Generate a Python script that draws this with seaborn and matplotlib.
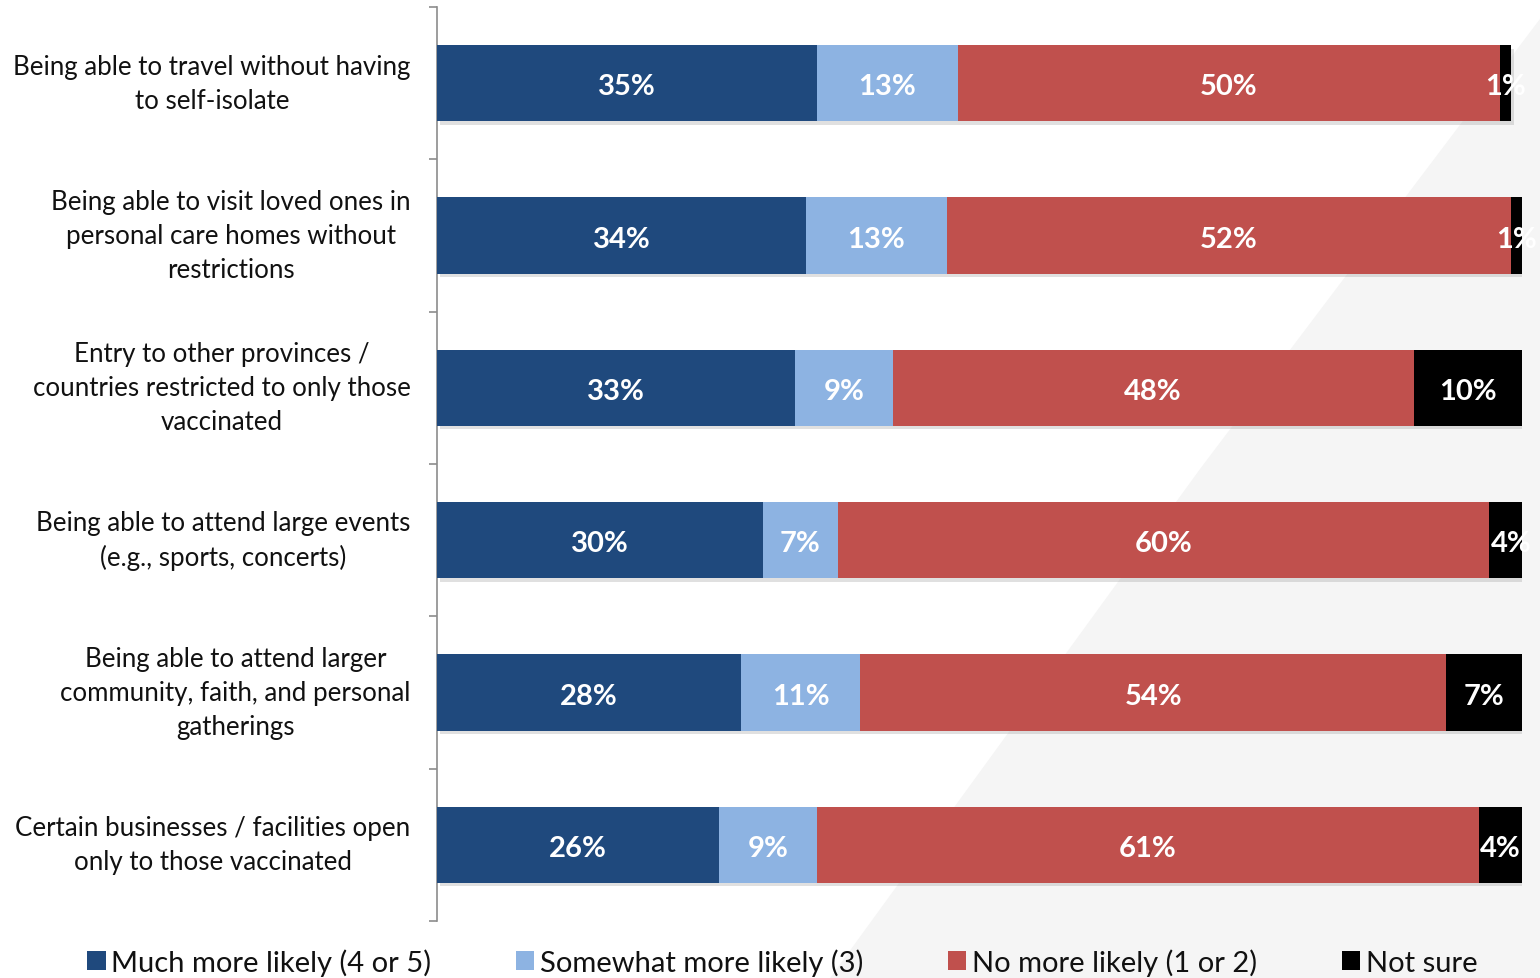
import numpy as np
import pandas as pd
import matplotlib
matplotlib.use("Agg")
import matplotlib.pyplot as plt
import matplotlib.patheffects as pe
from matplotlib.patches import Polygon, Patch
import seaborn as sns

# Survey items and response shares (%)
categories = [
    "Being able to travel without having\nto self-isolate",
    "Being able to visit loved ones in\npersonal care homes without\nrestrictions",
    "Entry to other provinces /\ncountries restricted to only those\nvaccinated",
    "Being able to attend large events\n(e.g., sports, concerts)",
    "Being able to attend larger\ncommunity, faith, and personal\ngatherings",
    "Certain businesses / facilities open\nonly to those vaccinated",
]
much_more = [35, 34, 33, 30, 28, 26]
somewhat_more = [13, 13, 9, 7, 11, 9]
no_more = [50, 52, 48, 60, 54, 61]
not_sure = [1, 1, 10, 4, 7, 4]

series_names = ["Much more likely (4 or 5)", "Somewhat more likely (3)",
                "No more likely (1 or 2)", "Not sure"]
series_values = [much_more, somewhat_more, no_more, not_sure]
series_colors = ["#1f497d", "#8db3e2", "#c0504d", "#000000"]

sns.set_theme(style="white")
plt.rcParams["font.family"] = ["Lato", "DejaVu Sans"]

fig = plt.figure(figsize=(15.4, 9.79), dpi=100)
fig.patch.set_facecolor("white")

# Soft grey slide backdrop on the right
W, H = 1540, 979
corners = [(1555, 0), (1540, 0), (1540, 979), (830, 979), (1200, 470)]
bg = Polygon([(x / W, 1 - y / H) for x, y in corners],
             closed=True, transform=fig.transFigure, facecolor="#f5f5f5",
             edgecolor="none", zorder=-5)
fig.patches.append(bg)

ax = fig.add_axes([437 / W, 1 - 922 / H, (1522 - 437) / W, (922 - 8) / H])
ax.set_zorder(2)
ax.set_facecolor("none")

df = pd.DataFrame({"category": categories})
cum = np.cumsum(np.array(series_values, dtype=float), axis=0)

# Stacked bars: draw cumulative totals from back to front
for i in range(len(series_names) - 1, -1, -1):
    df["value"] = cum[i]
    sns.barplot(data=df, x="value", y="category", orient="h",
                color=series_colors[i], saturation=1, width=0.5,
                edgecolor="none", linewidth=0, ax=ax, zorder=2 + (3 - i))
    if i == len(series_names) - 1:
        for p in ax.patches:
            p.set_path_effects([pe.SimplePatchShadow(offset=(2, -2.5), shadow_rgbFace="#9a9a9a",
                                                     alpha=0.3), pe.Normal()])

# Segment value labels
for j in range(len(categories)):
    left = 0.0
    for i, vals in enumerate(series_values):
        v = vals[j]
        ax.text(left + v / 2, j + 0.02, f"{v}%", ha="center", va="center",
                color="white", fontsize=21, fontweight="bold", zorder=10)
        left += v

ax.set_xlim(0, 100)
ax.set_ylim(len(categories) - 0.5, -0.5)
ax.set_xlabel("")
ax.set_ylabel("")
ax.set_xticks([])

# Category labels centred on bars, tick marks on band boundaries
ax.set_yticks(np.arange(-0.5, len(categories), 1.0))
ax.set_yticklabels([])
ax.set_yticks(np.arange(len(categories)), minor=True)
ax.set_yticklabels(categories, minor=True, fontsize=18.6, color="#111111",
                   multialignment="center", linespacing=1.45)
for lab in ax.get_yticklabels(minor=True):
    lab.set_verticalalignment("center")
ax.tick_params(axis="y", which="major", length=6, width=1.2, color="#8c8c8c",
               direction="out", left=True)
ax.tick_params(axis="y", which="minor", length=0, pad=19)

for s in ["top", "right", "bottom"]:
    ax.spines[s].set_visible(False)
ax.spines["left"].set_color("#8c8c8c")
ax.spines["left"].set_linewidth(1.2)

handles = [Patch(facecolor=c, edgecolor="none") for c in series_colors]
fig.legend(handles, series_names, loc="center", bbox_to_anchor=(0.508, 0.016),
           ncol=4, frameon=False, fontsize=21, handlelength=0.62, handleheight=0.62,
           handletextpad=0.2, columnspacing=2.9, labelcolor="#111111")

fig.savefig("out.png", dpi=100, facecolor=fig.get_facecolor())
